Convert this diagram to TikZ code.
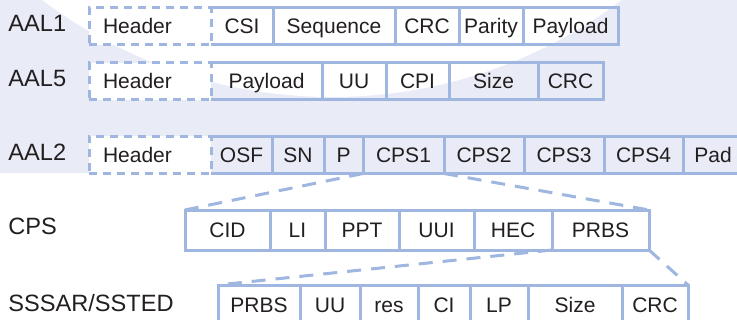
\documentclass[tikz,border=0pt]{standalone}
\usepackage{fontspec}
\setmainfont{Liberation Sans}
\usepackage{xcolor}
\usepackage{tikz}
\usetikzlibrary{positioning}
\definecolor{fieldblue}{RGB}{158,182,224}
\definecolor{bandblue}{RGB}{233,235,247}
\definecolor{textgray}{RGB}{35,31,32}
\newcommand{\fieldcolor}{fieldblue}

\begin{document}
\begin{tikzpicture}[x=0.5pt, y=-0.5pt, every node/.style={text=textgray}]
	\tikzstyle{field}=[rectangle, draw=\fieldcolor, line width=1.5pt, inner sep=0pt, outer sep=0pt, minimum height=18.5pt, text height=7.5pt, text depth=0pt, font=\fontsize{10.5}{12}\selectfont]
	\tikzstyle{openfield}=[field, draw=none]
	\tikzstyle{tall}=[minimum height=20pt]
	\tikzstyle{hdr}=[field, dash pattern=on 4pt off 3pt, fill=white, minimum width=61pt, text width=47pt, inner xsep=7pt, align=left]
	\tikzstyle{rowlabel}=[anchor=west, inner sep=0pt, text height=8.5pt, text depth=0pt, font=\fontsize{11.8}{14}\selectfont]
	\tikzstyle{edge}=[draw=\fieldcolor, line width=1.5pt]
	\tikzstyle{zoomline}=[edge, dash pattern=on 7pt off 5pt]

	% background band with the white lens
	\useasboundingbox (0,0) rectangle (737,320);
	\fill[white] (0,0) rectangle (737,320);
	\fill[bandblue] (0,0) rectangle (737,173);
	\begin{scope}
		\clip (0,0) rectangle (737,173);
		\fill[white] (332,-384) circle [radius=481];
	\end{scope}

	% AAL1
	\node (aal1) at (8,23) [rowlabel]{AAL1};
	\node (aal1hdr) at (150,26.5) [hdr]{Header};
	\node (aal1csi) [openfield, minimum width=31pt, right=0pt of aal1hdr]{CSI};
	\node (aal1seq) [field, minimum width=61pt, right=0pt of aal1csi]{Sequence};
	\node (aal1crc) [field, minimum width=32pt, right=0pt of aal1seq]{CRC};
	\node (aal1par) [field, minimum width=32pt, right=0pt of aal1crc]{Parity};
	\node (aal1pay) [field, minimum width=47.5pt, right=0pt of aal1par]{Payload};
	\draw[edge] (aal1csi.north west) -- (aal1csi.north east) -- (aal1csi.south east) -- (aal1csi.south west);

	% AAL5
	\node (aal5) at (8,78) [rowlabel]{AAL5};
	\node (aal5hdr) at (150,81.5) [hdr]{Header};
	\node (aal5pay) [openfield, minimum width=55.5pt, right=0pt of aal5hdr]{Payload};
	\node (aal5uu) [field, minimum width=32pt, right=0pt of aal5pay]{UU};
	\node (aal5cpi) [field, minimum width=31.5pt, right=0pt of aal5uu]{CPI};
	\node (aal5size) [field, minimum width=44.5pt, right=0pt of aal5cpi]{Size};
	\node (aal5crc) [field, minimum width=32.5pt, right=0pt of aal5size]{CRC};
	\draw[edge] (aal5pay.north west) -- (aal5pay.north east) -- (aal5pay.south east) -- (aal5pay.south west);

	% AAL2
	\node (aal2) at (8,152.5) [rowlabel]{AAL2};
	\node (aal2hdr) at (150,155) [hdr]{Header};
	\node (aal2osf) [openfield, minimum width=30.5pt, right=0pt of aal2hdr]{OSF};
	\node (aal2sn) [field, minimum width=26pt, right=0pt of aal2osf]{SN};
	\node (aal2p) [field, minimum width=19.5pt, right=0pt of aal2sn]{P};
	\node (aal2cps1) [field, minimum width=40.5pt, right=0pt of aal2p]{CPS1};
	\node (aal2cps2) [field, minimum width=40pt, right=0pt of aal2cps1]{CPS2};
	\node (aal2cps3) [field, minimum width=40pt, right=0pt of aal2cps2]{CPS3};
	\node (aal2cps4) [field, minimum width=39.5pt, right=0pt of aal2cps3]{CPS4};
	\node (aal2pad) [field, minimum width=30pt, right=0pt of aal2cps4]{Pad};
	\draw[edge] (aal2osf.north west) -- (aal2osf.north east) -- (aal2osf.south east) -- (aal2osf.south west);

	% CPS packet
	\node (cps) at (8,226) [rowlabel]{CPS};
	\node (cpscid) at (227.5,230) [field, tall, minimum width=42.5pt]{CID};
	\node (cpsli) [field, tall, minimum width=27.5pt, right=0pt of cpscid]{LI};
	\node (cpsppt) [field, tall, minimum width=37pt, right=0pt of cpsli]{PPT};
	\node (cpsuui) [field, tall, minimum width=37.5pt, right=0pt of cpsppt]{UUI};
	\node (cpshec) [field, tall, minimum width=39pt, right=0pt of cpsuui]{HEC};
	\node (cpsprbs) [field, tall, minimum width=48.5pt, right=0pt of cpshec]{PRBS};

	% SSSAR/SSTED
	\node (sar) at (8,303) [rowlabel]{SSSAR/SSTED};
	\node (sarprbs) at (259,305) [field, tall, minimum width=41pt]{PRBS};
	\node (saruu) [field, tall, minimum width=30pt, right=0pt of sarprbs]{UU};
	\node (sarres) [field, tall, minimum width=29pt, right=0pt of saruu]{res};
	\node (sarci) [field, tall, minimum width=26pt, right=0pt of sarres]{CI};
	\node (sarlp) [field, tall, minimum width=29pt, right=0pt of sarci]{LP};
	\node (sarsize) [field, tall, minimum width=47pt, right=0pt of sarlp]{Size};
	\node (sarcrc) [field, tall, minimum width=33pt, right=0pt of sarsize]{CRC};

	% zoom lines
	\draw[zoomline] (aal2cps1.south west) -- (cpscid.north west);
	\draw[zoomline] (aal2cps1.south east) -- (cpsprbs.north east);
	\draw[zoomline] (cpshec.south east) -- (sarprbs.north west);
	\draw[zoomline] (cpsprbs.south east) -- (sarcrc.north east);
\end{tikzpicture}
\end{document}
